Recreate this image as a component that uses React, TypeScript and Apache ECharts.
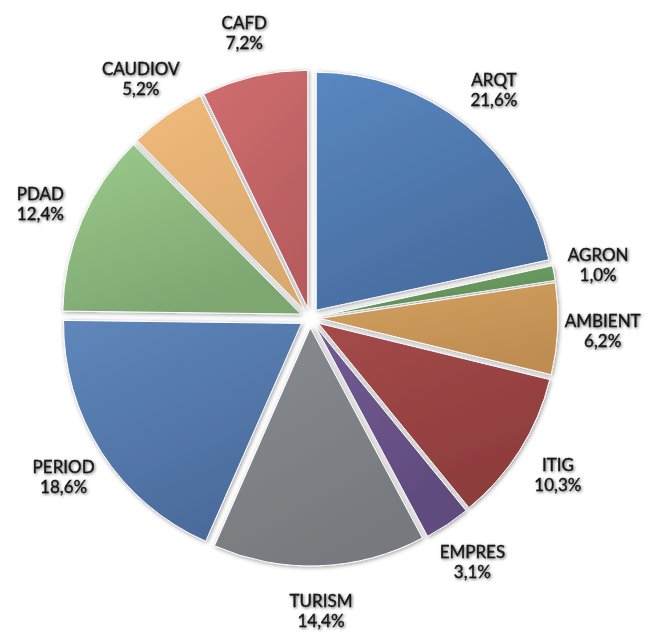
import React, { useEffect, useRef } from "react";
import * as echarts from "echarts";

const categories = ["ARQT", "AGRON", "AMBIENT", "ITIG", "EMPRES", "TURISM", "PERIOD", "PDAD", "CAUDIOV", "CAFD"];
const shares = [21.6, 1.0, 6.2, 10.3, 3.1, 14.4, 18.6, 12.4, 5.2, 7.2];

const lightColors = ["#5887C1", "#72A267", "#D3A160", "#A54A4A", "#735A94", "#888B8F", "#5F87BB", "#9BCA8B", "#F0BA7A", "#D06E6F"];
const darkColors = ["#486C9E", "#5E8C56", "#BF8D51", "#8E3C3D", "#5F4B7D", "#76797D", "#4A6B9B", "#7DA671", "#DAA96E", "#B75C5F"];

const fmt = (v: number) => v.toFixed(1).replace(".", ",") + "%";

export default function App() {
  const ref = useRef<HTMLDivElement>(null);
  useEffect(() => {
    if (!ref.current) return;
    const chart = echarts.init(ref.current, undefined, { renderer: "svg" });
    const center = [310, 318];
    const mainData = categories.map((name, i) => ({
      name,
      value: shares[i],
      selected: true,
      itemStyle: {
        color: {
          type: "linear",
          x: 0,
          y: 0,
          x2: 0.5,
          y2: 1,
          colorStops: [
            { offset: 0, color: lightColors[i] },
            { offset: 1, color: darkColors[i] },
          ],
        },
      },
    }));
    const labelData = categories.map((name, i) => ({ name, value: shares[i] }));
    chart.setOption({
      animation: false,
      backgroundColor: "#ffffff",
      series: [
        {
          type: "pie",
          center,
          radius: [0, 238],
          startAngle: 90,
          clockwise: true,
          selectedMode: "multiple",
          selectedOffset: 10,
          silent: true,
          itemStyle: {
            borderColor: "#ffffff",
            borderWidth: 1,
            shadowBlur: 4,
            shadowColor: "rgba(0,0,0,0.4)",
            shadowOffsetX: 1,
            shadowOffsetY: 1,
          },
          select: {
            itemStyle: {
              borderColor: "#ffffff",
              borderWidth: 1,
            },
          },
          label: { show: false },
          labelLine: { show: false },
          data: mainData,
        },
        {
          type: "pie",
          center,
          radius: [281, 299],
          startAngle: 90,
          clockwise: true,
          silent: true,
          itemStyle: { color: "rgba(0,0,0,0)", borderWidth: 0 },
          label: {
            show: true,
            position: "inside",
            formatter: (p: any) => `${p.name}\n${fmt(p.value)}`,
            color: "#161616",
            fontFamily: "Lato",
            fontSize: 17,
            lineHeight: 20,
            textBorderColor: "#161616",
            textBorderWidth: 0.35,
            textShadowColor: "rgba(0,0,0,0.6)",
            textShadowBlur: 3,
            textShadowOffsetX: 1,
            textShadowOffsetY: 1,
          },
          labelLine: { show: false },
          data: labelData,
        },
      ],
    });
    return () => chart.dispose();
  }, []);
  return (
    <div
      ref={ref}
      style={{ position: "absolute", left: 0, top: 0, width: 649, height: 632, background: "#fff" }}
    />
  );
}
